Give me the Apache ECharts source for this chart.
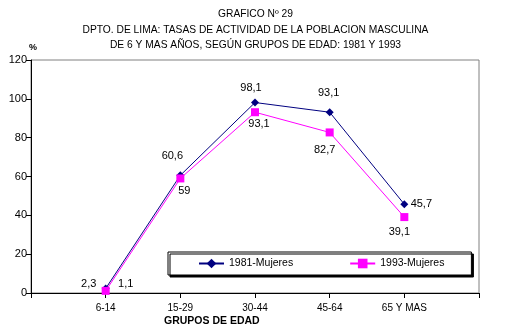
<!DOCTYPE html>
<html><head><meta charset="utf-8">
<script src="https://cdn.jsdelivr.net/npm/echarts@6/dist/echarts.min.js"></script>
<style>html,body{margin:0;padding:0;background:#fff}#c{width:511px;height:333px}</style>
</head><body><div id="c"></div>
<script>
var categories = ['', '6-14', '15-29', '30-44', '45-64', '65 Y MAS', ''];
var values1981 = [null, 2.3, 60.6, 98.1, 93.1, 45.7, null];
var values1993 = [null, 1.1, 59, 93.1, 82.7, 39.1, null];
var labels1981 = ['', '2,3', '60,6', '98,1', '93,1', '45,7', ''];
var labels1993 = ['', '1,1', '59', '93,1', '82,7', '39,1', ''];
var yTicks = [0, 20, 40, 60, 80, 100, 120];
// label placement (style, pixel offsets from the marker centre)
var off1981 = [null, [-17, -5], [-8, -19], [-4, -15], [-1, -19], [17, 0], null];
var off1993 = [null, [20, -7], [4, 13], [4, 12], [-5, 18], [-5, 15], null];
var FONT = 'Liberation Sans';

function mk(vals, labs, offs) {
  return vals.map(function (v, i) {
    if (v === null) return null;
    return { value: v, label: { show: true, position: 'inside', offset: offs[i], formatter: labs[i] } };
  });
}

var tstyle = { fontSize: 10.25, fontWeight: 'normal', color: '#000', fontFamily: FONT };
var chart = echarts.init(document.getElementById('c'));
chart.setOption({
  animation: false,
  textStyle: { fontFamily: FONT },
  title: [
    { text: 'GRAFICO Nº 29', left: 'center', top: 4, textStyle: tstyle },
    { text: 'DPTO. DE LIMA: TASAS DE ACTIVIDAD DE LA POBLACION MASCULINA', left: 'center', top: 20, textStyle: tstyle },
    { text: 'DE 6 Y MAS AÑOS, SEGÚN GRUPOS DE EDAD: 1981 Y 1993', left: 'center', top: 35, textStyle: tstyle }
  ],
  graphic: [
    { type: 'text', left: 29, top: 43, style: { text: '%', font: 'bold 9px "Liberation Sans"', fill: '#000' } },
    { type: 'text', left: 164, top: 316, style: { text: 'GRUPOS DE EDAD', font: 'bold 10.5px "Liberation Sans"', fill: '#000' } }
  ],
  grid: { left: 31, right: 32, top: 60, bottom: 40, show: true, borderColor: '#808080', borderWidth: 1, backgroundColor: 'transparent' },
  legend: {
    left: 168, top: 252, orient: 'horizontal',
    padding: [6, 27, 6, 30], itemGap: 56, itemWidth: 25, itemHeight: 12,
    backgroundColor: '#fff', borderColor: '#000', borderWidth: 1,
    shadowColor: '#000', shadowBlur: 0, shadowOffsetX: 2, shadowOffsetY: 2,
    textStyle: { fontSize: 10.5, color: '#000', fontFamily: FONT },
    data: ['1981-Mujeres', '1993-Mujeres']
  },
  xAxis: {
    type: 'category', data: categories, boundaryGap: false,
    axisLine: { lineStyle: { color: '#000', width: 1 } },
    axisTick: { show: true, length: 5, lineStyle: { color: '#000' }, interval: 0 },
    axisLabel: { fontSize: 10, color: '#000', margin: 10, interval: 0 },
    splitLine: { show: false }
  },
  yAxis: {
    type: 'value', min: 0, max: 120, interval: 20,
    axisLine: { show: true, lineStyle: { color: '#000', width: 1 } },
    axisTick: { show: true, length: 5, lineStyle: { color: '#000' } },
    axisLabel: { fontSize: 11, color: '#000', margin: 4, formatter: function (v) { return yTicks.indexOf(v) >= 0 ? String(v) : ''; } },
    splitLine: { show: false }
  },
  series: [
    {
      name: '1981-Mujeres', type: 'line', data: mk(values1981, labels1981, off1981),
      symbol: 'diamond', symbolSize: 8, showAllSymbol: true,
      lineStyle: { color: '#000080', width: 1 }, itemStyle: { color: '#000080' },
      label: { color: '#000', fontSize: 11, fontFamily: FONT }, z: 2
    },
    {
      name: '1993-Mujeres', type: 'line', data: mk(values1993, labels1993, off1993),
      symbol: 'rect', symbolSize: 8, showAllSymbol: true,
      lineStyle: { color: '#FF00FF', width: 1 }, itemStyle: { color: '#FF00FF' },
      label: { color: '#000', fontSize: 11, fontFamily: FONT }, z: 3
    }
  ]
});
</script></body></html>
